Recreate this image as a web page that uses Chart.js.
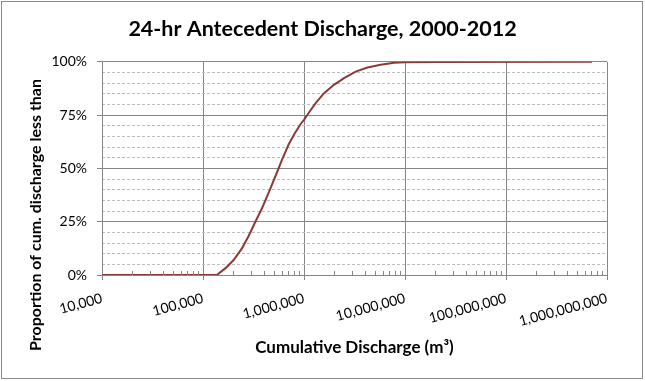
<!DOCTYPE html>
<html>
<head>
<meta charset="utf-8">
<script src="https://cdn.jsdelivr.net/npm/chart.js@4/dist/chart.umd.min.js"></script>
<style>
  html, body { margin: 0; padding: 0; background: #fff; }
  #wrap { position: relative; width: 645px; height: 381px; }
  #frame { position: absolute; left: 1px; top: 1px; width: 640px; height: 376px; border: 1px solid #8a8a8a; pointer-events: none; }
  canvas { display: block; }
</style>
</head>
<body>
<div id="wrap">
  <canvas id="c" width="645" height="381"></canvas>
  <div id="frame"></div>
</div>
<script>
// ---- data ----
const chartTitle = '24-hr Antecedent Discharge, 2000-2012';
const xAxisTitle = 'Cumulative Discharge (m\u00B3)';
const yAxisTitle = 'Proportion of cum. discharge less than';
const discharge = [10000, 137000, 166000, 201000, 243000, 283000, 330000, 384000, 447000, 520000,
                   605000, 668000, 704000, 800000, 919000, 1000000, 1120000, 1310000, 1580000, 1980000,
                   2490000, 3250000, 4240000, 5740000, 7800000, 10000000, 20000000, 710000000];
const proportion = [0, 0, 0.031, 0.07, 0.125, 0.183, 0.25, 0.313, 0.386, 0.462,
                    0.54, 0.587, 0.612, 0.66, 0.706, 0.728, 0.762, 0.807, 0.853, 0.892,
                    0.923, 0.954, 0.973, 0.986, 0.995, 0.998, 0.9995, 1.0];
const xTickValues = [1e4, 1e5, 1e6, 1e7, 1e8, 1e9];
const yTickValues = [0, 0.25, 0.5, 0.75, 1];

const points = discharge.map((d, i) => ({ x: d, y: proportion[i] }));
const GRID = '#868686';
const MINOR = '#bdbdbd';

const extrasPlugin = {
  id: 'extras',
  afterDraw(chart) {
    const ctx = chart.ctx;
    const xs = chart.scales.x;
    const area = chart.chartArea;
    ctx.save();
    // minor inside tick marks on the log axis
    ctx.strokeStyle = GRID;
    ctx.lineWidth = 1;
    for (let i = 0; i < xTickValues.length - 1; i++) {
      for (let m = 2; m <= 9; m++) {
        const px = Math.round(xs.getPixelForValue(xTickValues[i] * m)) + 0.5;
        ctx.beginPath();
        ctx.moveTo(px, area.bottom);
        ctx.lineTo(px, area.bottom - 4);
        ctx.stroke();
      }
    }
    // y axis title
    ctx.fillStyle = '#000';
    ctx.font = 'bold 16px Lato';
    ctx.textAlign = 'center';
    ctx.textBaseline = 'middle';
    ctx.translate(36, 215);
    ctx.rotate(-Math.PI / 2);
    ctx.fillText(yAxisTitle, 0, 0);
    ctx.restore();
  }
};

Chart.defaults.font.family = 'Lato';
Chart.defaults.color = '#000';

new Chart(document.getElementById('c'), {
  type: 'scatter',
  data: {
    datasets: [{
      data: points,
      showLine: true,
      borderColor: '#8a3b36',
      backgroundColor: '#8a3b36',
      borderWidth: 2,
      pointRadius: 0,
      tension: 0
    }]
  },
  options: {
    responsive: false,
    animation: false,
    devicePixelRatio: 1,
    layout: { padding: { left: 0, right: 0, top: 0, bottom: 0 } },
    plugins: {
      legend: { display: false },
      tooltip: { enabled: false },
      title: {
        display: true,
        text: chartTitle,
        font: { size: 21.5, weight: 'bold' },
        color: '#000',
        padding: { top: 16, bottom: 20 }
      }
    },
    scales: {
      x: {
        type: 'logarithmic',
        min: xTickValues[0],
        max: xTickValues[xTickValues.length - 1],
        afterBuildTicks(scale) {
          scale.ticks = xTickValues.map(v => ({ value: v, major: true }));
        },
        afterFit(scale) { scale.height = 106; },
        ticks: {
          autoSkip: false,
          minRotation: 15,
          maxRotation: 15,
          padding: 10,
          font: { size: 14 },
          callback: (v) => Number(v).toLocaleString('en-US')
        },
        grid: { color: GRID, lineWidth: 1, drawTicks: true, tickLength: 5, tickColor: GRID },
        border: { color: GRID },
        title: {
          display: true,
          text: xAxisTitle,
          font: { size: 17, weight: 'bold' },
          color: '#000',
          padding: { top: 0, bottom: 23 }
        }
      },
      y: {
        type: 'linear',
        position: 'left',
        min: 0,
        max: 1,
        afterBuildTicks(scale) {
          scale.ticks = yTickValues.map(v => ({ value: v }));
        },
        afterFit(scale) { scale.width = 102; },
        ticks: {
          padding: 10,
          font: { size: 14 },
          callback: (v) => Math.round(v * 100) + '%'
        },
        grid: { color: GRID, lineWidth: 1, drawTicks: true, tickLength: 5, tickColor: GRID },
        border: { color: GRID }
      },
      y2: {
        type: 'linear',
        position: 'left',
        min: 0,
        max: 1,
        ticks: { display: false, stepSize: 0.05 },
        afterFit(scale) { scale.width = 0; },
        grid: {
          drawTicks: false,
          lineWidth: 1,
          color: (ctx) => {
            const v = ctx.tick ? ctx.tick.value : 0;
            const r = Math.round(v * 100);
            return (r % 25 === 0) ? 'rgba(0,0,0,0)' : MINOR;
          }
        },
        border: { display: false, dash: [3, 2] }
      },
      yRightGap: {
        type: 'linear',
        position: 'right',
        min: 0,
        max: 1,
        ticks: { display: false },
        grid: { display: false, drawTicks: false },
        border: { display: false },
        afterFit(scale) { scale.width = 38; }
      }
    }
  },
  plugins: [extrasPlugin]
});
</script>
</body>
</html>
